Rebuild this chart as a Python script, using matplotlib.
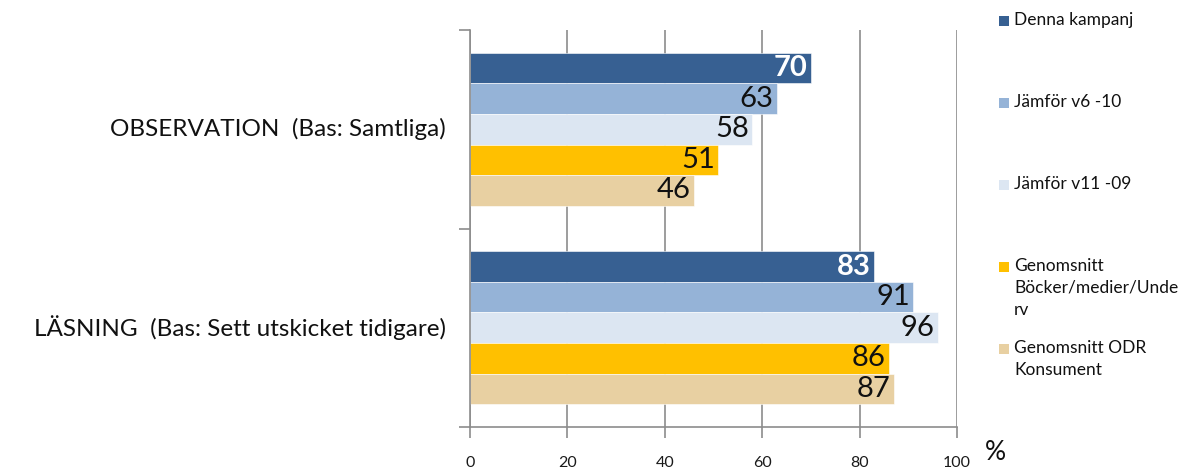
import matplotlib

matplotlib.use("Agg")
import matplotlib.pyplot as plt
import numpy as np
from matplotlib.patches import Rectangle


categories = ["OBSERVATION  (Bas: Samtliga)", "LÄSNING  (Bas: Sett utskicket tidigare)"]
series_names = [
    "Denna kampanj",
    "Jämför v6 -10",
    "Jämför v11 -09",
    "Genomsnitt\nBöcker/medier/Unde\nrv",
    "Genomsnitt ODR\nKonsument",
]
denna = [70, 83]
v6_10 = [63, 91]
v11_09 = [58, 96]
genomsnitt_bmu = [51, 86]
genomsnitt_odr = [46, 87]
series_values = [denna, v6_10, v11_09, genomsnitt_bmu, genomsnitt_odr]
x_ticks = [0, 20, 40, 60, 80, 100]

colors = ["#376092", "#95B3D7", "#DCE6F2", "#FFC000", "#E8D0A2"]
label_colors = ["white", "#111111", "#111111", "#111111", "#111111"]
label_weights = ["bold", "normal", "normal", "normal", "normal"]

plt.rcParams["font.family"] = ["Lato", "DejaVu Sans"]

fig = plt.figure(figsize=(11.91, 4.68), dpi=100)
ax = fig.add_axes([470 / 1191, 1 - 427 / 468, (957 - 470) / 1191, (427 - 30) / 468])

n = len(series_values)
bar_h = 0.77 / n
y = np.arange(len(categories))
for i, (vals, color) in enumerate(zip(series_values, colors)):
    pos = y - 0.385 + bar_h * (i + 0.5)
    bars = ax.barh(pos, vals, height=bar_h, color=color, edgecolor="white", linewidth=0.4, zorder=2)
    for rect, v in zip(bars, vals):
        ax.text(
            rect.get_width() - 0.7,
            rect.get_y() + rect.get_height() / 2,
            f"{v}",
            ha="right",
            va="center",
            fontsize=21,
            color=label_colors[i],
            fontweight=label_weights[i],
            zorder=3,
        )

ax.set_xlim(0, 100)
ax.set_ylim(1.5, -0.5)
ax.set_xticks(x_ticks)
ax.set_xticklabels([str(t) for t in x_ticks], fontsize=11.5, color="#1a1a1a")
ax.tick_params(axis="x", length=8, width=1.2, color="#8c8c8c", pad=13, direction="out")
ax.set_yticks([-0.5, 0.5, 1.5])
ax.set_yticklabels([])
ax.tick_params(axis="y", length=8, width=1.2, color="#8c8c8c")
ax.grid(axis="x", color="#8c8c8c", linewidth=1.2, zorder=0)
for side in ("top", "right"):
    ax.spines[side].set_visible(False)
for side in ("left", "bottom"):
    ax.spines[side].set_color("#8c8c8c")
    ax.spines[side].set_linewidth(1.2)

for yc, cat in zip(y, categories):
    ax.text(-5.0, yc, cat, ha="right", va="center", fontsize=17.5, color="#111111",
            transform=ax.transData, clip_on=False)

fig.text(995 / 1191, 1 - 453 / 468, "%", ha="center", va="center", fontsize=19, color="#111111")

# legend, drawn by hand to match the spread-out layout
for i, (name, color) in enumerate(zip(series_names, colors)):
    ty = 1 - (21 + i * 82) / 468
    fig.patches.append(Rectangle((999 / 1191, ty - 5 / 468), 10 / 1191, 10 / 468,
                                 transform=fig.transFigure, facecolor=color, edgecolor="none"))
    fig.text(1014 / 1191, ty + 9 / 468, name, ha="left", va="top", fontsize=12.5,
             color="#111111", linespacing=1.45)

fig.savefig("out.png", dpi=100)
